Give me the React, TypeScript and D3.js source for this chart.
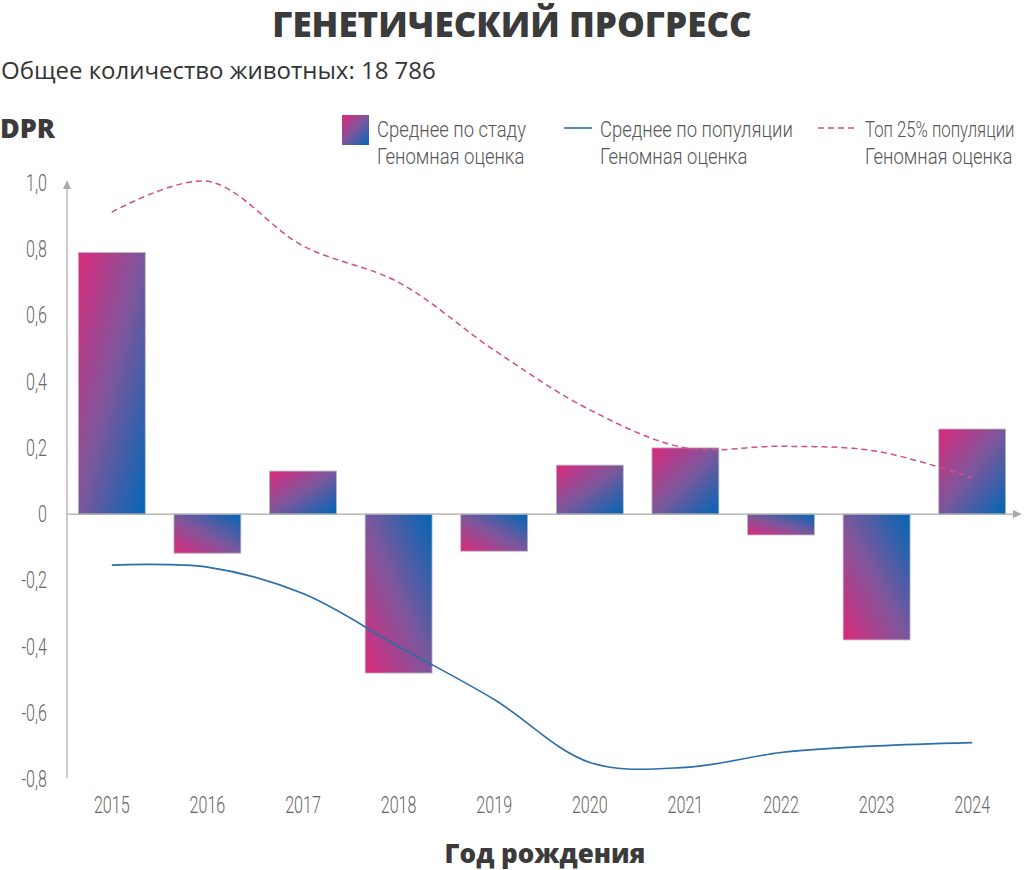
import { useRef, useEffect } from "react";
import * as d3 from "d3";

const years = ["2015", "2016", "2017", "2018", "2019", "2020", "2021", "2022", "2023", "2024"];
const herdMean = [0.79, -0.118, 0.13, -0.48, -0.112, 0.148, 0.2, -0.063, -0.38, 0.257];
const popMean = [-0.154, -0.16, -0.24, -0.4, -0.56, -0.75, -0.765, -0.72, -0.7, -0.69];
const top25 = [0.912, 1.005, 0.81, 0.7, 0.495, 0.315, 0.2, 0.205, 0.19, 0.11];
const yTicks = [1.0, 0.8, 0.6, 0.4, 0.2, 0, -0.2, -0.4, -0.6, -0.8];

const W = 1024;
const H = 870;
const thin = "Roboto, 'DejaVu Sans', sans-serif";
const bold = "'Open Sans', 'Lato', sans-serif";

export default function App() {
  const svgRef = useRef<SVGSVGElement>(null);

  useEffect(() => {
    const svgEl = svgRef.current;
    if (!svgEl) return;
    const svg = d3.select(svgEl);
    svg.selectAll("*").remove();

    const x = d3
      .scaleBand<string>()
      .domain(years)
      .range([64, 1020])
      .paddingInner(0.3)
      .paddingOuter(0.15);
    const y = d3.scaleLinear().domain([-0.8, 1.0]).range([779, 183]);

    // condensed text: squeeze horizontally around the anchor point
    const narrowText = (
      parent: d3.Selection<any, any, any, any>,
      px: number,
      py: number,
      txt: string,
      size: number,
      sx: number,
      anchor = "start",
      fill = "#555"
    ) =>
      parent
        .append("text")
        .attr("transform", `translate(${px},${py}) scale(${sx},1)`)
        .attr("text-anchor", anchor)
        .attr("font-family", thin)
        .attr("font-weight", 300)
        .attr("font-size", size)
        .attr("fill", fill)
        .text(txt);

    // gradients
    const defs = svg.append("defs");
    const mkGrad = (id: string, x1: number, y1: number, x2: number, y2: number) => {
      const g = defs
        .append("linearGradient")
        .attr("id", id)
        .attr("x1", x1)
        .attr("y1", y1)
        .attr("x2", x2)
        .attr("y2", y2);
      g.append("stop").attr("offset", "0%").attr("stop-color", "#dc2a7c");
      g.append("stop").attr("offset", "50%").attr("stop-color", "#7a579c");
      g.append("stop").attr("offset", "100%").attr("stop-color", "#0067b6");
    };
    mkGrad("gPos", 0, 0, 1, 1);
    mkGrad("gNeg", 0, 1, 1, 0);
    mkGrad("gLeg", 0, 0, 1, 1);

    // title
    svg
      .append("text")
      .attr("x", 512)
      .attr("y", 37)
      .attr("text-anchor", "middle")
      .attr("font-family", bold)
      .attr("font-weight", 800)
      .attr("font-size", 35)
      .attr("fill", "#3b3b3b")
      .text("ГЕНЕТИЧЕСКИЙ ПРОГРЕСС");

    svg
      .append("text")
      .attr("x", 1)
      .attr("y", 79)
      .attr("font-family", "'Open Sans', sans-serif")
      .attr("font-size", 24)
      .attr("fill", "#333")
      .text("Общее количество животных: 18 786");

    svg
      .append("text")
      .attr("x", 0)
      .attr("y", 138)
      .attr("font-family", bold)
      .attr("font-weight", 800)
      .attr("font-size", 27)
      .attr("fill", "#3b3b3b")
      .text("DPR");

    // legend
    const leg = svg.append("g");
    leg.append("rect").attr("x", 342).attr("y", 115).attr("width", 27).attr("height", 30).attr("fill", "url(#gLeg)");
    leg.append("line").attr("x1", 564).attr("x2", 592).attr("y1", 128).attr("y2", 128)
      .attr("stroke", "#2b6ea8").attr("stroke-width", 1.6);
    leg.append("line").attr("x1", 818).attr("x2", 857).attr("y1", 128).attr("y2", 128)
      .attr("stroke", "#d24d88").attr("stroke-width", 1.6).attr("stroke-dasharray", "6,4");
    const legItems = [
      { x: 377, a: "Среднее по стаду", s: 0.84 },
      { x: 600, a: "Среднее по популяции", s: 0.84 },
      { x: 865, a: "Топ 25% популяции", s: 0.76 },
    ];
    legItems.forEach((d) => {
      narrowText(leg, d.x, 137, d.a, 22, d.s);
      narrowText(leg, d.x, 164, "Геномная оценка", 22, 0.84);
    });

    // y axis labels
    const yl = svg.append("g");
    yTicks.forEach((d) => {
      const lbl = d === 0 ? "0" : d3.format(".1f")(d).replace(".", ",").replace("−", "-");
      narrowText(yl, 47, y(d) + 8, lbl, 23, 0.7, "end", "#666");
    });

    // bars
    svg
      .append("g")
      .selectAll("rect")
      .data(years)
      .join("rect")
      .attr("x", (d) => x(d)!)
      .attr("width", x.bandwidth())
      .attr("y", (d, i) => y(Math.max(0, herdMean[i])))
      .attr("height", (d, i) => Math.abs(y(herdMean[i]) - y(0)))
      .attr("fill", (d, i) => (herdMean[i] >= 0 ? "url(#gPos)" : "url(#gNeg)"))
      .attr("stroke", "#b8b8c4")
      .attr("stroke-width", 0.8);

    // axes
    const axisColor = "#aaa";
    svg.append("line").attr("x1", 67).attr("x2", 67).attr("y1", 186).attr("y2", 778)
      .attr("stroke", axisColor).attr("stroke-width", 1.2);
    svg.append("path").attr("d", "M67,180 L63,189 L71,189 Z").attr("fill", axisColor);
    svg.append("line").attr("x1", 67).attr("x2", 1015).attr("y1", y(0)).attr("y2", y(0))
      .attr("stroke", axisColor).attr("stroke-width", 1.2);
    svg.append("path").attr("d", `M1022,${y(0)} L1013,${y(0) - 4} L1013,${y(0) + 4} Z`).attr("fill", axisColor);

    // x labels
    const xl = svg.append("g");
    years.forEach((d) => {
      narrowText(xl, x(d)! + x.bandwidth() / 2, 813, d, 23, 0.7, "middle", "#666");
    });

    // lines
    const lineGen = d3
      .line<number>()
      .x((d, i) => x(years[i])! + x.bandwidth() / 2)
      .y((d) => y(d))
      .curve(d3.curveCatmullRom.alpha(0.5));

    svg.append("path").datum(top25).attr("fill", "none").attr("stroke", "#d24d88")
      .attr("stroke-width", 1.5).attr("stroke-dasharray", "6,4").attr("d", lineGen as any);
    svg.append("path").datum(popMean).attr("fill", "none").attr("stroke", "#2b6ea8")
      .attr("stroke-width", 1.6).attr("d", lineGen as any);

    svg
      .append("text")
      .attr("x", 545)
      .attr("y", 863)
      .attr("text-anchor", "middle")
      .attr("font-family", bold)
      .attr("font-weight", 800)
      .attr("font-size", 26)
      .attr("fill", "#3b3b3b")
      .text("Год рождения");
  }, []);

  return (
    <svg
      ref={svgRef}
      width={W}
      height={H}
      style={{ position: "absolute", left: 0, top: 0, background: "#fff" }}
    />
  );
}
